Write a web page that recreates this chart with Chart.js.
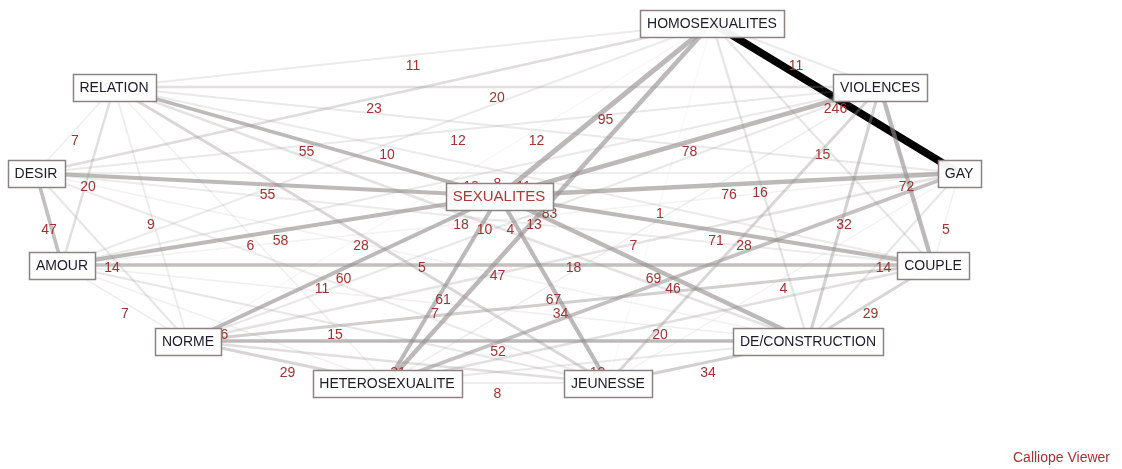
<!DOCTYPE html>
<html><head><meta charset="utf-8">
<script src="https://cdn.jsdelivr.net/npm/chart.js@4"></script>
<style>html,body{margin:0;padding:0;background:#fff;overflow:hidden}#wrap{width:1122px;height:469px;position:relative}</style>
</head><body><div id="wrap"><canvas id="c"></canvas></div>
<script>
// Nodes of the network (position of each label in the graph layout)
const nodeNames = ["HOMOSEXUALITES","RELATION","VIOLENCES","DESIR","SEXUALITES","GAY","AMOUR","COUPLE","NORME","DE/CONSTRUCTION","HETEROSEXUALITE","JEUNESSE"];
const nodeX = [712, 114, 880, 36, 499, 959, 62, 933, 188, 808, 387, 608];
const nodeY = [23, 87, 87, 173, 196, 173, 265, 265, 341, 341, 383, 383];

// Edges: source, target, co-occurrence value
const edgeFrom = ["HOMOSEXUALITES","HOMOSEXUALITES","HOMOSEXUALITES","SEXUALITES","SEXUALITES","HOMOSEXUALITES","HOMOSEXUALITES","VIOLENCES","GAY","VIOLENCES","VIOLENCES","SEXUALITES","HOMOSEXUALITES","VIOLENCES","GAY","SEXUALITES","HETEROSEXUALITE","JEUNESSE","DE/CONSTRUCTION","JEUNESSE","NORME","HETEROSEXUALITE","NORME","HETEROSEXUALITE","SEXUALITES","AMOUR","DESIR","HETEROSEXUALITE","AMOUR","NORME","DESIR","RELATION","AMOUR","RELATION","RELATION","DESIR","AMOUR","RELATION","RELATION","RELATION","DESIR","HOMOSEXUALITES","DESIR","RELATION","RELATION","DESIR","RELATION","AMOUR","NORME","NORME","AMOUR","DESIR","RELATION","DESIR","AMOUR","RELATION","NORME","HOMOSEXUALITES","NORME","HETEROSEXUALITE","DESIR","GAY","AMOUR"];
const edgeTo   = ["GAY","VIOLENCES","SEXUALITES","VIOLENCES","GAY","DE/CONSTRUCTION","COUPLE","COUPLE","COUPLE","DE/CONSTRUCTION","JEUNESSE","COUPLE","JEUNESSE","HETEROSEXUALITE","NORME","DE/CONSTRUCTION","GAY","GAY","COUPLE","DE/CONSTRUCTION","COUPLE","COUPLE","DE/CONSTRUCTION","JEUNESSE","JEUNESSE","COUPLE","DE/CONSTRUCTION","SEXUALITES","DE/CONSTRUCTION","SEXUALITES","JEUNESSE","JEUNESSE","SEXUALITES","HETEROSEXUALITE","NORME","AMOUR","NORME","AMOUR","DESIR","SEXUALITES","SEXUALITES","AMOUR","HOMOSEXUALITES","HOMOSEXUALITES","VIOLENCES","VIOLENCES","GAY","JEUNESSE","HETEROSEXUALITE","HOMOSEXUALITES","VIOLENCES","GAY","COUPLE","COUPLE","GAY","DE/CONSTRUCTION","VIOLENCES","HETEROSEXUALITE","JEUNESSE","DE/CONSTRUCTION","NORME","DE/CONSTRUCTION","HETEROSEXUALITE"];
const edgeWeights = [246,11,95,78,76,16,15,72,5,32,28,71,1,7,18,69,46,4,29,34,34,20,52,8,67,47,5,61,7,60,11,28,58,6,9,47,7,20,7,55,55,10,23,11,20,12,12,15,29,2,12,8,11,10,4,18,13,83,21,13,14,14,6];

const footerText = "Calliope Viewer";

const idx = n => nodeNames.indexOf(n);
function edgeColor(w){
  if (w >= 200) return "#000000";
  const a = Math.min(0.62, 0.07 + w / 95);
  return "rgba(150,142,142," + a.toFixed(3) + ")";
}
function edgeWidth(w){ return Math.min(8, 0.5 + 0.45 * Math.sqrt(w)); }

const order = edgeWeights.map((w,i)=>i).sort((a,b)=>edgeWeights[a]-edgeWeights[b]);
const datasets = order.map(i => {
  const a = idx(edgeFrom[i]), b = idx(edgeTo[i]);
  return {
    label: edgeFrom[i] + " - " + edgeTo[i],
    data: [{x: nodeX[a], y: nodeY[a]}, {x: nodeX[b], y: nodeY[b]}],
    showLine: true,
    borderColor: edgeColor(edgeWeights[i]),
    borderWidth: edgeWidth(edgeWeights[i]),
    pointRadius: 0,
    pointHoverRadius: 0,
    fill: false,
    tension: 0
  };
});

const graphPlugin = {
  id: 'graphLabels',
  afterDatasetsDraw(chart){
    const ctx = chart.ctx;
    const xs = chart.scales.x, ys = chart.scales.y;
    ctx.save();
    // edge value labels at edge midpoints
    ctx.font = "14px 'Liberation Sans', Arial, sans-serif";
    ctx.fillStyle = "#a03434";
    ctx.textAlign = "center";
    ctx.textBaseline = "middle";
    edgeWeights.forEach((w,i) => {
      const a = idx(edgeFrom[i]), b = idx(edgeTo[i]);
      const px = xs.getPixelForValue((nodeX[a] + nodeX[b]) / 2);
      const py = ys.getPixelForValue((nodeY[a] + nodeY[b]) / 2);
      ctx.fillText(String(w), px, py + 11);
    });
    // node boxes
    nodeNames.forEach((n,i) => {
      const main = n === "SEXUALITES";
      ctx.font = (main ? "15px" : "14px") + " 'Liberation Sans', Arial, sans-serif";
      const px = xs.getPixelForValue(nodeX[i]);
      const py = ys.getPixelForValue(nodeY[i]);
      const tw = ctx.measureText(n).width;
      const bw = Math.round(tw + 14), bh = 27;
      const x0 = Math.round(px - bw/2), y0 = Math.round(py - bh/2);
      ctx.fillStyle = "rgba(255,255,255,0.95)";
      ctx.fillRect(x0, y0, bw, bh);
      ctx.strokeStyle = "#8c8282";
      ctx.lineWidth = 1.5;
      ctx.strokeRect(x0 + 0.5, y0 + 0.5, bw, bh);
      ctx.fillStyle = main ? "#a83a3a" : "#1c1c2a";
      ctx.fillText(n, px, py + 1);
    });
    // footer
    ctx.font = "14px 'Liberation Sans', Arial, sans-serif";
    ctx.fillStyle = "#a03434";
    ctx.textAlign = "right";
    ctx.fillText(footerText, 1110, 458);
    ctx.restore();
  }
};

new Chart(document.getElementById('c'), {
  type: 'scatter',
  data: { datasets },
  options: {
    responsive: true,
    maintainAspectRatio: false,
    animation: false,
    devicePixelRatio: 1,
    layout: { padding: 0 },
    plugins: { legend: { display: false }, tooltip: { enabled: false } },
    events: [],
    scales: {
      x: { type: 'linear', min: 0, max: 1122, display: false },
      y: { type: 'linear', min: 0, max: 469, reverse: true, display: false }
    }
  },
  plugins: [graphPlugin]
});
</script>
</body></html>
